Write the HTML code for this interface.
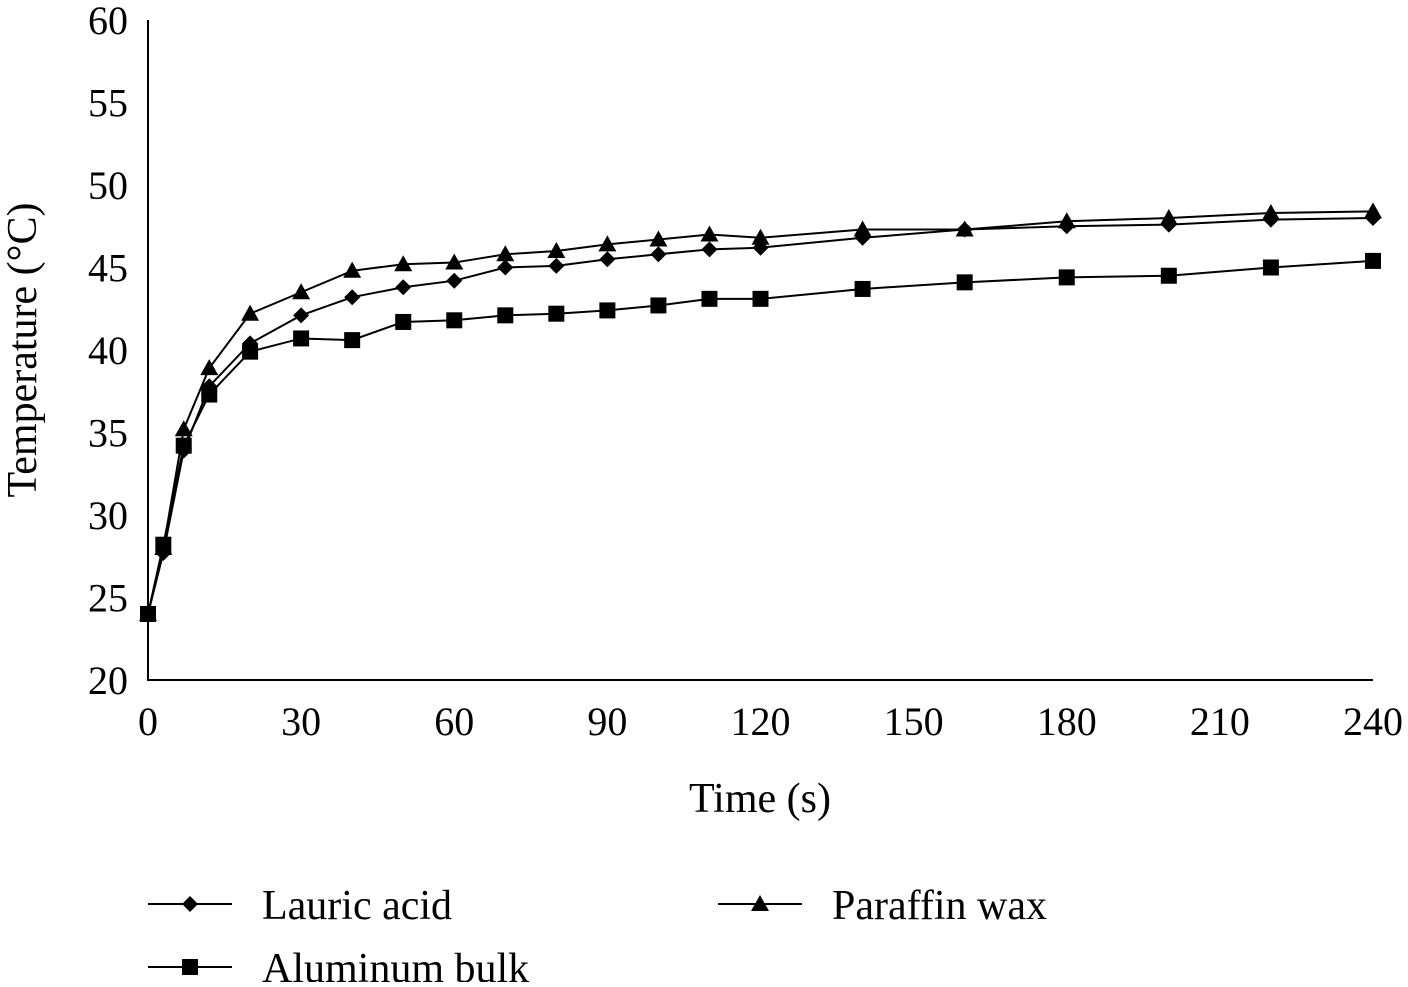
<!DOCTYPE html>
<html><head><meta charset="utf-8"><style>
html,body{margin:0;padding:0;background:#fff;}
svg text{font-family:"Liberation Serif",serif;fill:#000;}
</style></head><body>
<svg id="chart" width="1408" height="982" xmlns="http://www.w3.org/2000/svg"></svg>
<script>
const times=[0,3,7,12,20,30,40,50,60,70,80,90,100,110,120,140,160,180,200,220,240];
const lauric=[24,27.7,33.9,37.8,40.4,42.1,43.2,43.8,44.2,45.0,45.1,45.5,45.8,46.1,46.2,46.8,47.3,47.5,47.6,47.9,48.0];
const paraffin=[24,28,35.2,38.9,42.2,43.5,44.8,45.2,45.3,45.8,46.0,46.4,46.7,47.0,46.8,47.3,47.3,47.8,48.0,48.3,48.4];
const aluminum=[24,28.2,34.2,37.3,39.9,40.7,40.6,41.7,41.8,42.1,42.2,42.4,42.7,43.1,43.1,43.7,44.1,44.4,44.5,45.0,45.4];
const xTicks=[0,30,60,90,120,150,180,210,240];
const yTicks=[20,25,30,35,40,45,50,55,60];
const NS="http://www.w3.org/2000/svg";
const svg=document.getElementById('chart');
const X=v=>148+v*(1373-148)/240;
const Y=v=>680-(v-20)*(660/40);
function mk(tag,attrs,parent){const e=document.createElementNS(NS,tag);for(const k in attrs)e.setAttribute(k,attrs[k]);(parent||svg).appendChild(e);return e;}
let ax=mk('path',{d:`M148 20 V680 H1373`,stroke:'#000','stroke-width':2,fill:'none'});


yTicks.forEach(v=>{const t=mk('text',{x:128,y:Y(v)+14,'text-anchor':'end','font-size':40});t.textContent=v;

});
xTicks.forEach(v=>{const t=mk('text',{x:X(v),y:735,'text-anchor':'middle','font-size':40});t.textContent=v;

});
let xt=mk('text',{x:760,y:812,'text-anchor':'middle','font-size':42});xt.textContent='Time (s)';


let yt=mk('text',{x:0,y:0,'text-anchor':'middle','font-size':42,transform:'translate(36,350) rotate(-90)'});yt.textContent='Temperature (°C)';


function marker(type,x,y,g){
 if(type==='d')return mk('path',{d:`M${x} ${y-8} L${x+8} ${y} L${x} ${y+8} L${x-8} ${y}Z`,fill:'#000'},g);
 if(type==='s')return mk('rect',{x:x-8,y:y-8,width:16,height:16,fill:'#000'},g);
 return mk('path',{d:`M${x} ${y-9} L${x+9} ${y+7} L${x-9} ${y+7}Z`,fill:'#000'},g);
}
function series(vals,type,name){
 const g=mk('g',{});
 
 
 mk('polyline',{points:times.map((t,i)=>X(t)+','+Y(vals[i])).join(' '),fill:'none',stroke:'#000','stroke-width':2},g);
 times.forEach((t,i)=>{const m=marker(type,X(t),Y(vals[i]),g);
 
 });
}
series(paraffin,'t','paraffin-wax-series');
series(lauric,'d','lauric-acid-series');
series(aluminum,'s','aluminum-bulk-series');
function legend(x,y,type,label,name){
 const g=mk('g',{});
 
 
 mk('line',{x1:x,y1:y,x2:x+84,y2:y,stroke:'#000','stroke-width':2},g);
 marker(type,x+42,y,g);
 const t=mk('text',{x:x+114,y:y+15,'font-size':42},g);t.textContent=label;
}
legend(148,904,'d','Lauric acid','legend-lauric-acid');
legend(718,904,'t','Paraffin wax','legend-paraffin-wax');
legend(148,967,'s','Aluminum bulk','legend-aluminum-bulk');
</script>
</body></html>
